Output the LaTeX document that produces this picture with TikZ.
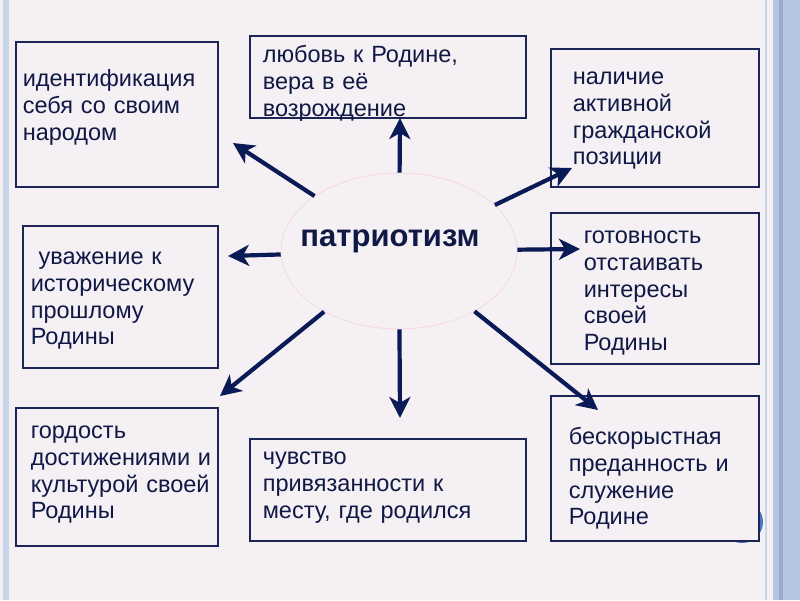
\documentclass[tikz,border=0pt]{standalone}
\usepackage{fontspec}
\setmainfont{Liberation Sans}
\usetikzlibrary{arrows.meta, shapes.geometric}
\definecolor{PageColor}{RGB}{245,240,243}
\definecolor{NavyColor}{RGB}{10,26,86}
\definecolor{TextColor}{RGB}{16,24,70}
\definecolor{FrameColor}{RGB}{28,38,86}
\definecolor{RingColor}{RGB}{248,214,228}
\definecolor{BandColor}{RGB}{182,197,223}
\definecolor{BandDark}{RGB}{150,172,210}
\definecolor{BandLight}{RGB}{200,212,232}
\definecolor{DotColor}{RGB}{74,120,190}
\newcommand{\cellfont}{\fontsize{23.5}{26.6}\selectfont}
\newcommand{\hubfont}{\fontsize{31}{36}\selectfont\bfseries}
\tikzstyle{cell} = [draw=FrameColor, line width=1.6pt, fill=PageColor, anchor=north west, inner sep=0pt, align=left, font=\cellfont, text=TextColor, text height=17pt]
\tikzstyle{spoke} = [line width=4.2pt, NavyColor, -{Stealth[length=21pt, width=21pt, inset=6pt]}]
\tikzstyle{hub} = [ellipse, draw=RingColor, line width=0.8pt, minimum width=236pt, minimum height=156pt, inner sep=0pt]
\tikzstyle{hubtext} = [font=\hubfont, text=TextColor, xshift=-9pt, yshift=10pt]

\begin{document}
\begin{tikzpicture}[x=1pt, y=-1pt]
    % slide background
    \fill[PageColor] (0,0) rectangle (800,600);
    \useasboundingbox (0,0) rectangle (800,600);
    \fill[BandLight] (3,0) rectangle (9,600);
    \fill[BandColor] (773,0) rectangle (800,600);
    \fill[BandDark] (779,0) rectangle (783,600);
    \draw[BandLight, line width=1.5pt] (766,0) -- (766,600);
    \fill[DotColor] (742,522) circle (21pt);

    % boxes
    \node[cell, text width=202pt, minimum height=145pt, text depth=72pt] (ident) at (15,41)
        {\leftskip=7pt идентификация\\себя со своим\\народом\par};
    \node[cell, text width=276pt, minimum height=82pt, text depth=45pt] (love) at (249,35)
        {\leftskip=13pt любовь к Родине,\\вера в её\\возрождение\par};
    \node[cell, text width=208pt, minimum height=138pt, text depth=83pt] (civic) at (550,48)
        {\leftskip=22pt наличие\\активной\\гражданской\\позиции\par};
    \node[cell, text width=195pt, minimum height=142pt, text depth=81pt] (respect) at (22,225)
        {\leftskip=8pt ~уважение к\\историческому\\прошлому\\Родины\par};
    \node[cell, text width=208pt, minimum height=151pt, text depth=106pt] (defend) at (550,212)
        {\leftskip=33pt готовность\\отстаивать\\интересы\\своей\\Родины\par};
    \node[cell, text width=202pt, minimum height=138pt, text depth=93pt] (pride) at (15,407)
        {\leftskip=15pt гордость\\достижениями и\\культурой своей\\Родины\par};
    \node[cell, text width=276pt, minimum height=102pt, text depth=67pt] (place) at (249,438)
        {\leftskip=13pt чувство\\привязанности к\\месту, где родился\par};
    \node[cell, text width=208pt, minimum height=145pt, text depth=64pt] (service) at (550,395)
        {\leftskip=18pt бескорыстная\\преданность и\\служение\\Родине\par};

    % centre and spokes
    \node[hub, label={[hubtext]center:патриотизм}] (patr) at (399,251) {};
    \foreach \k/\x/\y in {a/233/143, b/400/118, c/572/168, d/228/256,
                          e/580/249, f/220/396, g/400/418, h/598/410} {
            \coordinate (tip\k) at (\x,\y);
            \draw[spoke] (patr) -- (tip\k);
        }
\end{tikzpicture}
\end{document}
